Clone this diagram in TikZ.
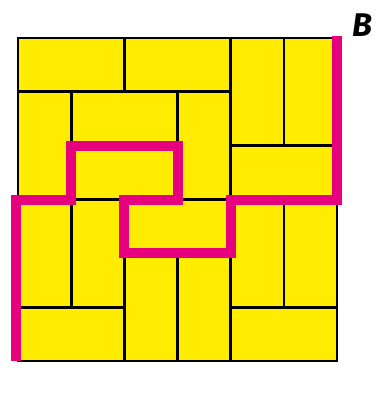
\documentclass[tikz,border=0pt]{standalone}
\usepackage{fontspec}
\setsansfont{Fira Sans}
\usepackage{xcolor}
\usepackage{tikz}
\definecolor{tileyellow}{RGB}{255,236,0}
\definecolor{routepink}{RGB}{230,0,126}

\begin{document}
\begin{tikzpicture}[x=0.03cm, y=-0.03cm,
  domino/.style={fill=tileyellow, draw=black, line width=0.08cm},
  route/.style={draw=routepink, line width=0.3cm, line cap=butt, line join=miter}]
\useasboundingbox (0,0) rectangle (382,403);
\begin{scope}[shift={(18,38)}, x={(1.595cm,0)}, y={(0,-1.615cm)}]
% tiles: x0/y0/x1/y1 in cells, rows counted from the top
\foreach \xa/\ya/\xb/\yb in {0/0/2/1, 2/0/4/1, 4/0/5/2, 5/0/6/2,
  0/1/1/3, 1/1/3/2, 3/1/4/3, 1/2/3/3, 4/2/6/3,
  0/3/1/5, 1/3/2/5, 2/3/4/4, 4/3/5/5, 5/3/6/5,
  2/4/3/6, 3/4/4/6, 0/5/2/6, 4/5/6/6} {
  \draw[domino] (\xa,\ya) rectangle (\xb,\yb);
}
\draw[route] (-0.03,6) -- (-0.03,3) -- (1,3) -- (1,2) -- (3,2) -- (3,3) -- (2,3)
  -- (2,4) -- (4,4) -- (4,3) -- (6,3) -- (6,-0.04);
\end{scope}
\node[font=\sffamily\bfseries\itshape\fontsize{28}{28}\selectfont, inner sep=0pt] (labelB) at (362,25) {B};
\end{tikzpicture}
\end{document}
